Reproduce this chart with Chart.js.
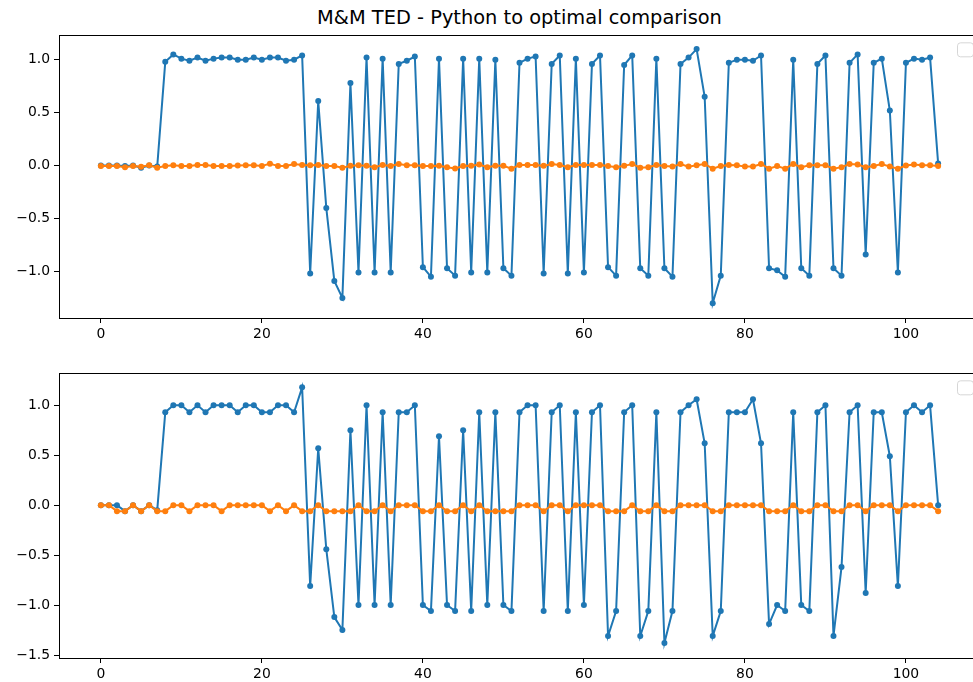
<!DOCTYPE html>
<html>
<head>
<meta charset="utf-8">
<script src="https://cdn.jsdelivr.net/npm/chart.js@4/dist/chart.umd.min.js"></script>
<style>
  html, body { margin: 0; padding: 0; background: #fff; overflow: hidden; }
  body { width: 973px; height: 682px; position: relative; }
  #title { position: absolute; left: 0; width: 1039px; top: 6px; text-align: center;
           font-family: "DejaVu Sans", sans-serif; font-size: 19.4px; line-height: 24px; color: #000; }
  .box { position: absolute; left: 0; }
</style>
</head>
<body>
<div id="title">M&amp;M TED - Python to optimal comparison</div>
<div class="box" style="top:23px"><canvas id="topChart" width="990" height="325"></canvas></div>
<div class="box" style="top:361px"><canvas id="bottomChart" width="990" height="327"></canvas></div>
<script>
// tick labels
const xTicks = [0, 20, 40, 60, 80, 100];
const topYTicks = [-1.0, -0.5, 0.0, 0.5, 1.0];
const bottomYTicks = [-1.5, -1.0, -0.5, 0.0, 0.5, 1.0];

// top plot series
const topBlue = [0, 0, 0, -0.005, 0, -0.02, 0, -0.01,
  0.98, 1.05, 1.01, 0.99, 1.02, 0.99, 1.01, 1.02, 1.02, 1.0, 1.0, 1.02, 1.0, 1.02, 1.02, 0.99, 1.0, 1.04,
  -1.02, 0.61, -0.4, -1.09, -1.25, 0.78, -1.01, 1.02, -1.01, 1.01, -1.01, 0.96, 0.99, 1.03,
  -0.96, -1.05, 1.01, -0.97, -1.04, 1.01, -1.01, 1.01, -1.01, 1.0, -0.97, -1.04, 0.97, 1.01, 1.03,
  -1.02, 0.96, 1.04, -1.02, 1.01, -1.01, 0.96, 1.04, -0.96, -1.04, 0.95, 1.04, -0.97, -1.04, 1.01,
  -0.97, -1.05, 0.96, 1.02, 1.1, 0.65, -1.3, -1.04, 0.97, 1.0, 1.0, 0.99, 1.04, -0.97, -0.99, -1.05,
  1.0, -0.97, -1.04, 0.96, 1.04, -0.97, -1.04, 0.97, 1.05, -0.84, 0.97, 1.01, 0.52, -1.01,
  0.97, 1.01, 1.0, 1.02, 0.02];
const topOrange = [-0.005, -0.005, -0.005, -0.015, -0.005, -0.012, 0.003, -0.02, -0.005, 0.003,
  -0.005, -0.005, 0.005, 0.005, -0.005, -0.005, -0.005, 0, 0.003, 0.003,
  -0.005, 0.018, -0.005, -0.005, 0.015, 0.005, 0.003, 0.005, -0.005, -0.005,
  -0.02, -0.003, 0.003, -0.003, -0.015, 0.005, -0.005, 0.015, 0.003, 0.003,
  -0.005, -0.005, -0.003, -0.015, -0.028, -0.005, -0.003, 0.01, -0.015, -0.003,
  -0.003, -0.03, 0.005, 0.005, 0.005, -0.003, 0.015, 0.005, -0.015, 0.005,
  0.005, 0.005, 0.005, -0.005, -0.015, -0.003, 0.015, -0.02, -0.015, 0.005,
  -0.005, -0.01, 0.015, -0.01, 0.003, 0.015, -0.03, -0.005, 0.005, 0.003,
  -0.01, -0.01, 0.015, -0.03, -0.005, -0.03, 0.015, -0.015, 0.003, 0.003,
  0.003, -0.03, -0.015, 0.015, 0.01, -0.015, -0.005, 0.015, -0.01, -0.03,
  0, 0.01, 0.003, 0.003, -0.005];

// bottom plot series
const bottomBlue = [0, 0, 0, -0.06, 0, -0.06, 0, -0.05,
  0.93, 1.0, 1.0, 0.93, 1.0, 0.93, 1.0, 1.0, 1.0, 0.93, 1.0, 1.0, 0.93, 0.93, 1.0, 1.0, 0.93, 1.18,
  -0.81, 0.57, -0.44, -1.12, -1.25, 0.75, -1.0, 1.0, -1.0, 0.93, -1.0, 0.93, 0.93, 1.0,
  -1.0, -1.06, 0.69, -1.0, -1.06, 0.75, -1.06, 0.93, -1.0, 0.93, -1.0, -1.06, 0.93, 1.0, 1.0,
  -1.06, 0.93, 1.0, -1.06, 0.93, -1.0, 0.93, 1.0, -1.31, -1.06, 0.93, 1.0, -1.31, -1.06, 0.93,
  -1.38, -1.06, 0.93, 1.0, 1.06, 0.62, -1.31, -1.06, 0.93, 0.93, 0.93, 1.06, 0.62, -1.19, -1.0, -1.06,
  0.93, -1.0, -1.06, 0.93, 1.0, -1.31, -0.62, 0.93, 1.0, -0.88, 0.93, 0.93, 0.49, -0.81,
  0.93, 1.0, 0.93, 1.0, 0.0];
const bottomOrange = [0, 0, -0.06, -0.06, 0, -0.06, 0, -0.06, -0.06, 0,
  0, -0.06, 0, 0, 0, -0.06, 0, 0, 0, 0,
  0, -0.06, 0, -0.06, 0, -0.06, -0.06, 0, -0.06, -0.06,
  -0.06, -0.06, 0, -0.06, -0.06, 0, -0.06, 0, 0, 0,
  -0.06, -0.06, 0, -0.06, -0.06, 0, -0.06, 0, -0.06, -0.06,
  -0.06, -0.06, 0, 0, 0, -0.06, 0, 0, -0.06, 0,
  0, 0, 0, -0.06, -0.06, -0.06, 0, -0.06, -0.06, 0,
  -0.06, -0.06, 0, 0, 0, 0, -0.06, -0.06, 0, 0,
  0, 0, 0, -0.06, -0.06, -0.06, 0, -0.06, -0.06, 0,
  0, -0.06, -0.06, 0, 0, -0.06, 0, 0, 0, -0.06,
  0, 0, 0, 0, -0.06];

const BLUE = '#1f77b4';
const ORANGE = '#ff7f0e';
const FONT = { family: 'DejaVu Sans', size: 13.9 };

function fmt(v) {
  return v.toFixed(1).replace('-', '\u2212');
}

// axes frame (all four spines) + the empty legend box matplotlib leaves
const framePlugin = {
  id: 'frame',
  afterDraw(chart) {
    const a = chart.chartArea;
    const c = chart.ctx;
    c.save();
    c.strokeStyle = '#000';
    c.lineWidth = 1;
    c.strokeRect(Math.round(a.left) + 0.5, Math.round(a.top) + 0.5,
      Math.round(a.right - a.left), Math.round(a.bottom - a.top));
    // empty legend
    const lx = a.right - 23, ly = a.top + 7, lw = 16, lh = 14;
    c.beginPath();
    c.roundRect(lx + 0.5, ly + 0.5, lw, lh, 3);
    c.fillStyle = 'rgba(255,255,255,0.8)';
    c.fill();
    c.strokeStyle = '#d6d6d6';
    c.stroke();
    c.restore();
  }
};

function makeChart(id, blue, orange, yMin, yMax, yTicks) {
  const pts = arr => arr.map((v, i) => ({ x: i, y: v }));
  return new Chart(document.getElementById(id).getContext('2d'), {
    type: 'line',
    data: {
      datasets: [
        {
          data: pts(blue),
          borderColor: BLUE,
          backgroundColor: BLUE,
          pointBackgroundColor: BLUE,
          borderWidth: 2,
          pointRadius: 3,
          pointBorderWidth: 0,
          tension: 0,
          order: 1
        },
        {
          data: pts(orange),
          borderColor: ORANGE,
          backgroundColor: ORANGE,
          pointBackgroundColor: ORANGE,
          borderWidth: 2,
          pointRadius: 3,
          pointBorderWidth: 0,
          tension: 0,
          order: 0
        }
      ]
    },
    options: {
      responsive: false,
      animation: false,
      devicePixelRatio: 1,
      layout: { padding: { top: 5, right: 10, left: 0, bottom: 0 } },
      plugins: {
        legend: { display: false },
        tooltip: { enabled: false },
        title: { display: false }
      },
      scales: {
        x: {
          type: 'linear',
          min: -5.2,
          max: 109.2,
          afterBuildTicks: s => { s.ticks = xTicks.map(v => ({ value: v })); },
          afterFit: s => { s.height = 30; },
          grid: { drawOnChartArea: false, drawTicks: true, tickLength: 5, tickColor: '#000' },
          border: { display: false },
          ticks: { color: '#000', font: FONT, padding: 3, maxRotation: 0, callback: v => String(v) }
        },
        y: {
          type: 'linear',
          min: yMin,
          max: yMax,
          afterBuildTicks: s => { s.ticks = yTicks.map(v => ({ value: v })); },
          afterFit: s => { s.width = 59; },
          grid: { drawOnChartArea: false, drawTicks: true, tickLength: 5, tickColor: '#000' },
          border: { display: false },
          ticks: { color: '#000', font: FONT, padding: 4, callback: v => fmt(v) }
        }
      }
    },
    plugins: [framePlugin]
  });
}

makeChart('topChart', topBlue, topOrange, -1.44, 1.23, topYTicks);
makeChart('bottomChart', bottomBlue, bottomOrange, -1.53, 1.32, bottomYTicks);
</script>
</body>
</html>
